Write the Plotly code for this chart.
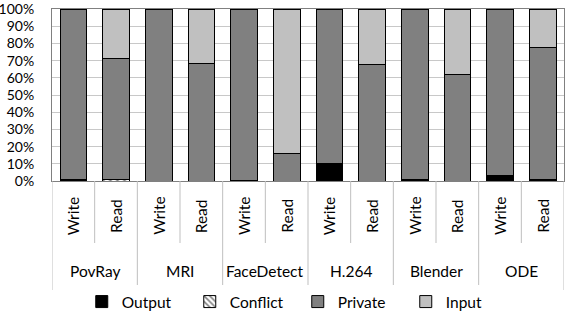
import plotly.graph_objects as go

groups = ["PovRay", "MRI", "FaceDetect", "H.264", "Blender", "ODE"]
kinds = ["Write", "Read"]
output = [0.8, 0, 0, 0, 0.3, 0, 10, 0, 0.6, 0, 3, 0.6]
conflict = [0, 1, 0, 0, 0, 0, 0, 0, 0, 0, 0, 0]
private = [99.2, 70, 100, 68.6, 99.7, 16.2, 90, 67.6, 99.4, 62.1, 97, 76.8]
inp = [0, 29, 0, 31.4, 0, 83.8, 0, 32.4, 0, 37.9, 0, 22.6]
y_ticks = [0, 10, 20, 30, 40, 50, 60, 70, 80, 90, 100]

FONT = "Lato"
FS = 15.5
n = len(groups) * len(kinds)
xs = list(range(n))

fig = go.Figure()
line = dict(color="black", width=1)
fig.add_bar(x=xs, y=output, name="Output", marker=dict(color="black", line=line))
fig.add_bar(x=xs, y=conflict, name="Conflict",
            marker=dict(color="white", line=line,
                        pattern=dict(shape="\\", fgcolor="black", bgcolor="white", size=5, solidity=0.4)))
fig.add_bar(x=xs, y=private, name="Private", marker=dict(color="#808080", line=line))
fig.add_bar(x=xs, y=inp, name="Input", marker=dict(color="#c0c0c0", line=line))

TOP, BOT = 9, 136
H = 317.0 - TOP - BOT
def py(pix):
    return -pix / H

shapes = []
annotations = []
for gi, g in enumerate(groups):
    for ki, k in enumerate(kinds):
        i = gi * len(kinds) + ki
        annotations.append(dict(x=i, y=py(35), xref="x", yref="paper", text=k, textangle=-90,
                                showarrow=False, font=dict(family=FONT, size=FS, color="black"),
                                xanchor="center", yanchor="middle"))
    annotations.append(dict(x=gi * 2 + 0.5, y=py(90), xref="x", yref="paper", text=g,
                            showarrow=False, font=dict(family=FONT, size=FS, color="black"),
                            xanchor="center", yanchor="middle"))
    shapes.append(dict(type="line", xref="x", yref="paper", x0=gi * 2 - 0.5, x1=gi * 2 - 0.5,
                       y0=0, y1=py(109), line=dict(color="#bfbfbf", width=1)))
    shapes.append(dict(type="line", xref="x", yref="paper", x0=gi * 2 + 0.5, x1=gi * 2 + 0.5,
                       y0=0, y1=py(62), line=dict(color="#bfbfbf", width=1)))
shapes.append(dict(type="line", xref="x", yref="paper", x0=n - 0.5, x1=n - 0.5,
                   y0=0, y1=py(109), line=dict(color="#bfbfbf", width=1)))

fig.update_layout(
    width=567, height=317,
    margin=dict(l=52, r=3, t=TOP, b=BOT, autoexpand=False),
    barmode="stack", bargap=0.375,
    plot_bgcolor="white", paper_bgcolor="white",
    font=dict(family=FONT, size=FS, color="black"),
    shapes=shapes, annotations=annotations,
    showlegend=True,
    legend=dict(orientation="h", x=0.48, xanchor="center", y=py(121), yanchor="middle",
                traceorder="normal", entrywidth=63, entrywidthmode="pixels",
                font=dict(family=FONT, size=FS), itemwidth=30),
)
fig.update_xaxes(range=[-0.5, n - 0.5], showticklabels=False, showgrid=False, zeroline=False,
                 showline=True, linecolor="#808080", linewidth=1, mirror=True, ticks="",
                 automargin=False)
fig.update_yaxes(range=[0, 100], tickvals=y_ticks, ticktext=[f"{v}%" for v in y_ticks],
                 showgrid=True, gridcolor="#c8c8c8", gridwidth=1, zeroline=False,
                 showline=True, linecolor="#808080", linewidth=1, mirror=True,
                 ticks="", ticklabelstandoff=14, ticklabeloverflow="allow", automargin=False,
                 tickfont=dict(family=FONT, size=14))

fig.write_html("out.html")
